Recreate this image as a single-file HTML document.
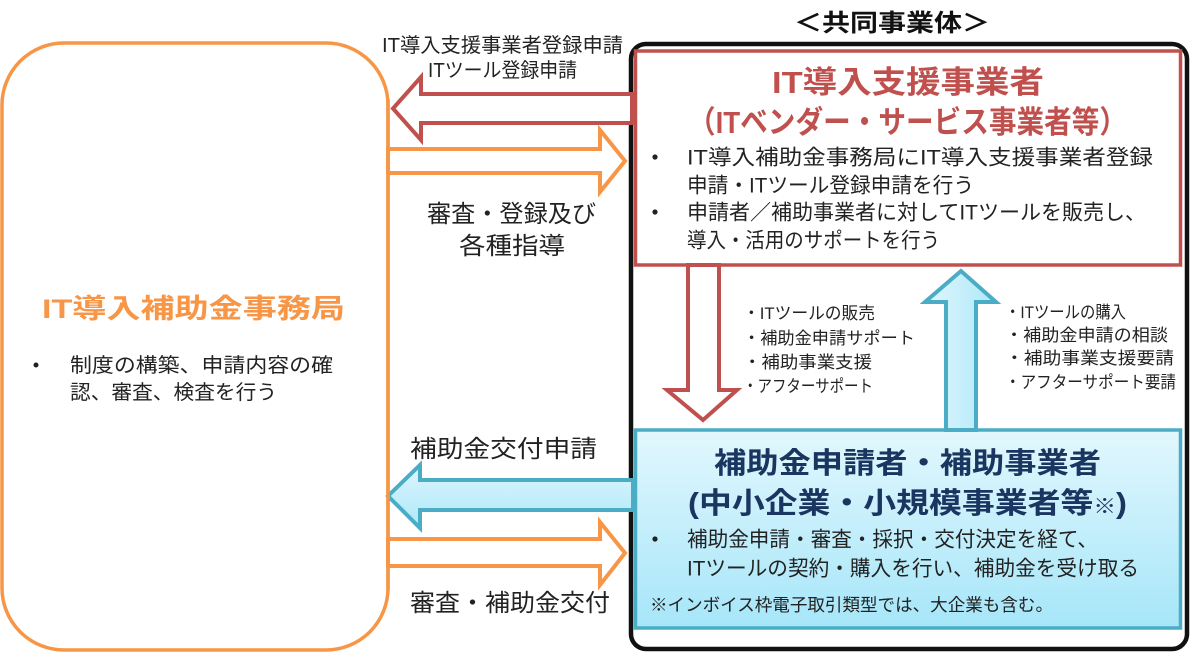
<!DOCTYPE html>
<html><head><meta charset="utf-8"><style>
html,body{margin:0;padding:0;background:#fff;}
svg{display:block;}
text{font-family:"Liberation Sans","Noto Sans CJK JP",sans-serif;fill:#222;}
.b{font-weight:bold;}
</style></head><body>
<svg width="1200" height="663" viewBox="0 0 1200 663" xmlns="http://www.w3.org/2000/svg">
<defs>
<linearGradient id="bg" x1="0" y1="0" x2="0" y2="1">
<stop offset="0" stop-color="#e2f7fd"/><stop offset="1" stop-color="#a6e6f9"/>
</linearGradient>
<linearGradient id="ag" x1="0" y1="0" x2="0" y2="1">
<stop offset="0" stop-color="#dcf5fd"/><stop offset="1" stop-color="#aee8f9"/>
</linearGradient>
<linearGradient id="ag2" x1="0" y1="0" x2="1" y2="0">
<stop offset="0" stop-color="#e0f6fd"/><stop offset="1" stop-color="#aee8f9"/>
</linearGradient>
</defs>
<rect width="1200" height="663" fill="#fff"/>

<!-- orange box -->
<rect x="2" y="43" width="386" height="607" rx="62" ry="62" fill="#fff" stroke="#f79646" stroke-width="3.5"/>

<!-- black joint box -->
<rect x="631" y="44" width="556" height="605" rx="15" ry="15" fill="#fff" stroke="#111" stroke-width="4.5"/>

<!-- red box -->
<rect x="635.5" y="51" width="545" height="214" fill="#fff" stroke="#c0504d" stroke-width="3.5"/>

<!-- blue box -->
<rect x="635.5" y="430" width="545" height="198" fill="url(#bg)" stroke="#4bacc6" stroke-width="3.5"/>

<!-- arrows -->
<polygon points="632,94 421,94 421,77 393,108.5 421,140 421,123 632,123" fill="#fff" stroke="#c0504d" stroke-width="4" stroke-linejoin="miter"/>
<polygon points="388,149 600,149 600,130 625,161 600,192 600,173 388,173" fill="#fff" stroke="#f79646" stroke-width="4"/>
<polygon points="633,480 420,480 420,465 388,496 420,528 420,510 633,510" fill="url(#ag)" stroke="#4bacc6" stroke-width="4"/>
<polygon points="388,539 600,539 600,522 625,553 600,585 600,566 388,566" fill="#fff" stroke="#f79646" stroke-width="4"/>
<polygon points="688,265 688,390 667,390 703,420 737,390 719,390 719,265" fill="#fff" stroke="#c0504d" stroke-width="4"/>
<polygon points="946,430 946,302 925,302 961,271 996,302 976,302 976,430" fill="url(#ag2)" stroke="#4bacc6" stroke-width="4"/>
<!-- re-draw box borders over arrow ends -->
<line x1="388" y1="100" x2="388" y2="590" stroke="#f79646" stroke-width="3.5"/>
<line x1="633" y1="455" x2="633" y2="630" stroke="#4bacc6" stroke-width="0"/>

<!-- top labels -->
<text x="382" y="52" font-size="20" textLength="241" lengthAdjust="spacingAndGlyphs">IT導入支援事業者登録申請</text>
<text x="428" y="77" font-size="20" textLength="149" lengthAdjust="spacingAndGlyphs">ITツール登録申請</text>
<text x="427" y="222" font-size="24" textLength="169" lengthAdjust="spacingAndGlyphs">審査・登録及び</text>
<text x="459" y="254" font-size="24" textLength="106" lengthAdjust="spacingAndGlyphs">各種指導</text>
<text x="410" y="457" font-size="24" textLength="187" lengthAdjust="spacingAndGlyphs">補助金交付申請</text>
<text x="410" y="611" font-size="24" textLength="200" lengthAdjust="spacingAndGlyphs">審査・補助金交付</text>

<!-- joint title -->
<text class="b" x="794" y="31" font-size="24" textLength="196" lengthAdjust="spacingAndGlyphs" style="fill:#111">＜共同事業体＞</text>

<!-- red box text -->
<text class="b" x="772" y="93" font-size="31" textLength="272" lengthAdjust="spacingAndGlyphs" style="fill:#c0504d">IT導入支援事業者</text>
<text class="b" x="688" y="133" font-size="31" textLength="439" lengthAdjust="spacingAndGlyphs" style="fill:#c0504d">（ITベンダー・サービス事業者等）</text>
<circle cx="655" cy="157" r="2.6" fill="#222"/>
<text x="687" y="164.5" font-size="21" textLength="466" lengthAdjust="spacingAndGlyphs">IT導入補助金事務局にIT導入支援事業者登録</text>
<text x="687" y="192.5" font-size="21" textLength="287" lengthAdjust="spacingAndGlyphs">申請・ITツール登録申請を行う</text>
<circle cx="655" cy="212" r="2.6" fill="#222"/>
<text x="687" y="219.5" font-size="21" textLength="459" lengthAdjust="spacingAndGlyphs">申請者／補助事業者に対してITツールを販売し、</text>
<text x="687" y="247.5" font-size="21" textLength="253" lengthAdjust="spacingAndGlyphs">導入・活用のサポートを行う</text>

<!-- orange box text -->
<text class="b" x="42" y="318" font-size="27" textLength="303" lengthAdjust="spacingAndGlyphs" style="fill:#f79646">IT導入補助金事務局</text>
<circle cx="36" cy="365" r="2.5" fill="#222"/>
<text x="70" y="372" font-size="20" textLength="263" lengthAdjust="spacingAndGlyphs">制度の構築、申請内容の確</text>
<text x="70" y="399" font-size="20" textLength="207" lengthAdjust="spacingAndGlyphs">認、審査、検査を行う</text>

<!-- middle lists -->
<text x="743" y="319" font-size="17" textLength="132" lengthAdjust="spacingAndGlyphs">・ITツールの販売</text>
<text x="743" y="344" font-size="17" textLength="172" lengthAdjust="spacingAndGlyphs">・補助金申請サポート</text>
<text x="743" y="368" font-size="17" textLength="129" lengthAdjust="spacingAndGlyphs">・補助事業支援</text>
<text x="743" y="392" font-size="17" textLength="130" lengthAdjust="spacingAndGlyphs">・アフターサポート</text>

<text x="1005" y="318" font-size="17" textLength="121" lengthAdjust="spacingAndGlyphs">・ITツールの購入</text>
<text x="1005" y="341" font-size="17" textLength="163" lengthAdjust="spacingAndGlyphs">・補助金申請の相談</text>
<text x="1005" y="364" font-size="17" textLength="169" lengthAdjust="spacingAndGlyphs">・補助事業支援要請</text>
<text x="1005" y="388" font-size="17" textLength="171" lengthAdjust="spacingAndGlyphs">・アフターサポート要請</text>

<!-- blue box text -->
<text class="b" x="714" y="473" font-size="29" textLength="387" lengthAdjust="spacingAndGlyphs" style="fill:#1b3561">補助金申請者・補助事業者</text>
<text class="b" x="688" y="513" font-size="29" textLength="439" lengthAdjust="spacingAndGlyphs" style="fill:#1b3561">(中小企業・小規模事業者等<tspan font-size="20">※</tspan>)</text>
<circle cx="655" cy="539" r="2.6" fill="#222"/>
<text x="687" y="546.5" font-size="21" textLength="411" lengthAdjust="spacingAndGlyphs">補助金申請・審査・採択・交付決定を経て、</text>
<text x="687" y="575.5" font-size="21" textLength="452" lengthAdjust="spacingAndGlyphs">ITツールの契約・購入を行い、補助金を受け取る</text>
<text x="650" y="611" font-size="17.5" textLength="403" lengthAdjust="spacingAndGlyphs">※インボイス枠電子取引類型では、大企業も含む。</text>
</svg>
</body></html>
